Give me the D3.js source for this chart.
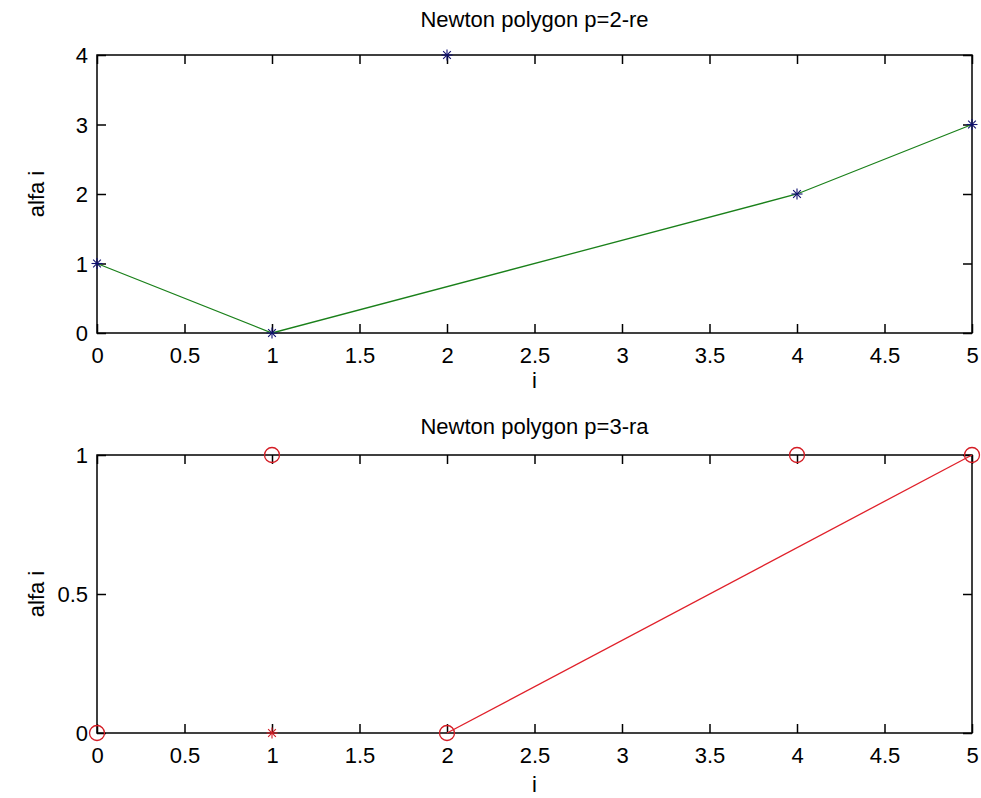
<!DOCTYPE html>
<html>
<head>
<meta charset="utf-8">
<script src="https://cdn.jsdelivr.net/npm/d3@7"></script>
<style>
    body { margin: 0; background: #fff; }
    svg { display: block; font-family: "Liberation Sans", Arial, sans-serif; }
</style>
</head>
<body>
<svg id="chart" width="981" height="798"></svg>
<script>
// tick values
var xTicks = [0, 0.5, 1, 1.5, 2, 2.5, 3, 3.5, 4, 4.5, 5];
var topYTicks = [0, 1, 2, 3, 4];
var bottomYTicks = [0, 0.5, 1];

// p=2 : all points and lower hull
var topPointX = [0, 1, 2, 4, 5];
var topPointY = [1, 0, 4, 2, 3];
var topHullX = [0, 1, 4, 5];
var topHullY = [1, 0, 2, 3];

// p=3 : circles, the star and lower hull
var bottomCircleX = [0, 1, 2, 4, 5];
var bottomCircleY = [0, 1, 0, 1, 1];
var bottomStarX = [1];
var bottomStarY = [0];
var bottomHullX = [2, 5];
var bottomHullY = [0, 1];

var fontSize = 22,
    tickLen = 9;

var svg = d3.select("#chart");

function zip(xs, ys) {
    return xs.map(function(x, i) { return [x, ys[i]]; });
}

function drawStar(g, pts, x, y, color) {
    var s = 5.5;
    var st = g.selectAll(null).data(pts).enter().append("g")
        .attr("transform", function(d) { return "translate(" + x(d[0]) + "," + y(d[1]) + ")"; })
        .attr("stroke", color)
        .attr("stroke-width", 1.1);
    st.append("line").attr("x1", -s).attr("x2", s).attr("y1", 0).attr("y2", 0);
    st.append("line").attr("x1", 0).attr("x2", 0).attr("y1", -s).attr("y2", s);
    st.append("line").attr("x1", -s * 0.7).attr("x2", s * 0.7).attr("y1", -s * 0.7).attr("y2", s * 0.7);
    st.append("line").attr("x1", -s * 0.7).attr("x2", s * 0.7).attr("y1", s * 0.7).attr("y2", -s * 0.7);
}

function drawPanel(opt) {
    var g = svg.append("g");
    var x = d3.scaleLinear().domain([0, 5]).range([opt.left, opt.right]);
    var y = d3.scaleLinear().domain(opt.yDomain).range([opt.bottom, opt.top]);

    var fmt = function(d) { return String(d); };

    // inward ticks on all four sides
    var bottomAxis = g.append("g").attr("transform", "translate(0," + opt.bottom + ")")
        .call(d3.axisBottom(x).tickValues(xTicks).tickFormat(fmt).tickSize(-tickLen).tickPadding(0));
    var topAxis = g.append("g").attr("transform", "translate(0," + opt.top + ")")
        .call(d3.axisTop(x).tickValues(xTicks).tickFormat("").tickSize(-tickLen));
    var leftAxis = g.append("g").attr("transform", "translate(" + opt.left + ",0)")
        .call(d3.axisLeft(y).tickValues(opt.yTicks).tickFormat(fmt).tickSize(-tickLen).tickPadding(10));
    var rightAxis = g.append("g").attr("transform", "translate(" + opt.right + ",0)")
        .call(d3.axisRight(y).tickValues(opt.yTicks).tickFormat("").tickSize(-tickLen));

    [bottomAxis, topAxis, leftAxis, rightAxis].forEach(function(a) {
        a.select(".domain").remove();
        a.selectAll("line").attr("stroke", "#000").attr("stroke-width", 1.5);
        a.selectAll("text").attr("fill", "#000").attr("font-size", fontSize)
            .attr("font-family", "Liberation Sans, Arial, sans-serif");
    });
    bottomAxis.selectAll("text").attr("dy", null).attr("y", 30);
    leftAxis.selectAll("text").attr("x", -9).attr("dy", "0.36em");

    // box
    g.append("rect")
        .attr("x", opt.left).attr("y", opt.top)
        .attr("width", opt.right - opt.left).attr("height", opt.bottom - opt.top)
        .attr("fill", "none").attr("stroke", "#000").attr("stroke-width", 1.5);

    // hull line
    g.append("path")
        .datum(zip(opt.hullX, opt.hullY))
        .attr("fill", "none")
        .attr("stroke", opt.lineColor)
        .attr("stroke-width", 1.3)
        .attr("d", d3.line().x(function(d) { return x(d[0]); }).y(function(d) { return y(d[1]); }));

    if (opt.circles) {
        g.selectAll(null).data(zip(opt.circleX, opt.circleY)).enter().append("circle")
            .attr("cx", function(d) { return x(d[0]); })
            .attr("cy", function(d) { return y(d[1]); })
            .attr("r", 7.5)
            .attr("fill", "none")
            .attr("stroke", opt.markerColor)
            .attr("stroke-width", 1.3);
    }
    drawStar(g, zip(opt.starX, opt.starY), x, y, opt.markerColor);

    // labels
    var cx = (opt.left + opt.right) / 2;
    g.append("text").attr("x", cx).attr("y", opt.top - opt.titleOffset)
        .attr("text-anchor", "middle").attr("font-size", fontSize).text(opt.title);
    g.append("text").attr("x", cx).attr("y", opt.bottom + opt.xlabelOffset)
        .attr("text-anchor", "middle").attr("font-size", fontSize).text("i");
    g.append("text")
        .attr("transform", "translate(44," + ((opt.top + opt.bottom) / 2) + ") rotate(-90)")
        .attr("text-anchor", "middle").attr("font-size", fontSize).text("alfa i");
}

drawPanel({
    left: 97, right: 972, top: 55, bottom: 333,
    yDomain: [0, 4], yTicks: topYTicks,
    title: "Newton polygon p=2-re", titleOffset: 28, xlabelOffset: 55,
    hullX: topHullX, hullY: topHullY, lineColor: "#1a801a",
    starX: topPointX, starY: topPointY, markerColor: "#101070",
    circles: false
});

drawPanel({
    left: 97, right: 972, top: 455, bottom: 733,
    yDomain: [0, 1], yTicks: bottomYTicks,
    title: "Newton polygon p=3-ra", titleOffset: 21, xlabelOffset: 59,
    hullX: bottomHullX, hullY: bottomHullY, lineColor: "#e0202a",
    circleX: bottomCircleX, circleY: bottomCircleY,
    starX: bottomStarX, starY: bottomStarY, markerColor: "#d41c24",
    circles: true
});
</script>
</body>
</html>
